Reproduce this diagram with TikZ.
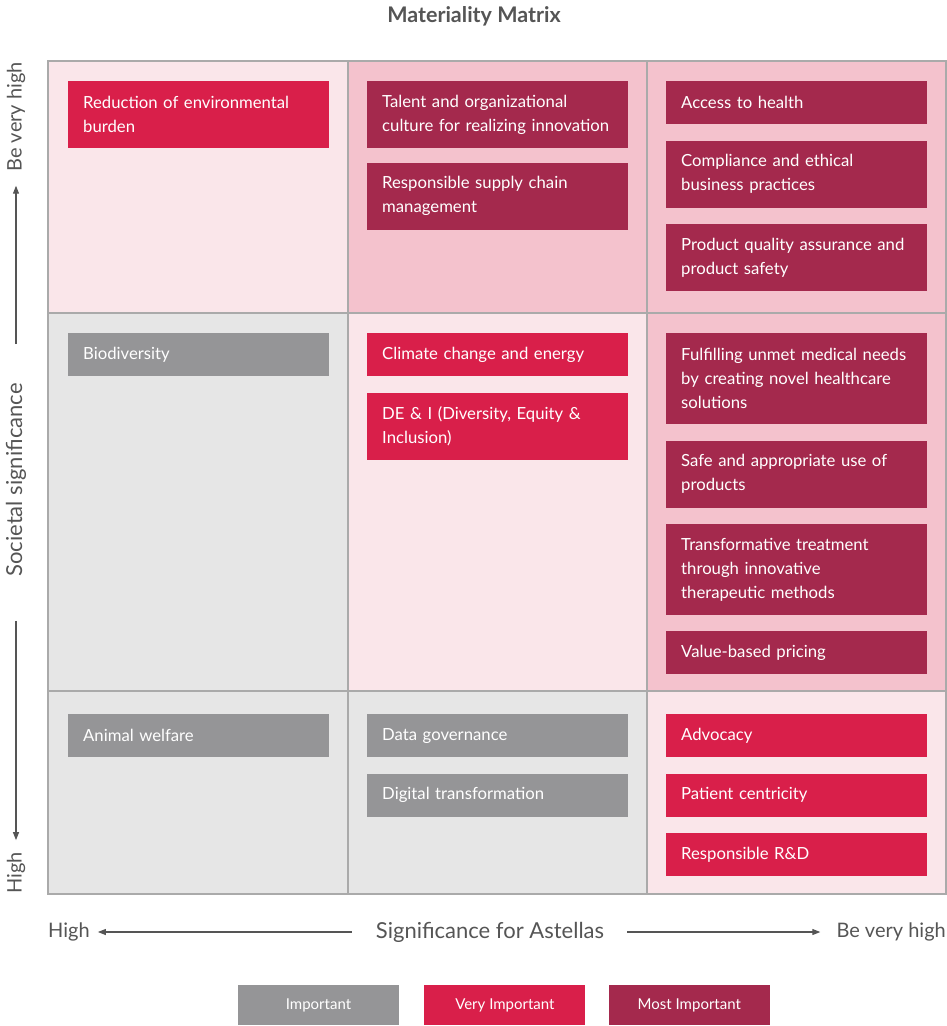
\documentclass[tikz,border=0pt]{standalone}
\usepackage{fontspec}
\setmainfont{Lato}
\usetikzlibrary{arrows.meta, calc, positioning}

\definecolor{vired}{HTML}{D91F4A}
\definecolor{mostred}{HTML}{A4294D}
\definecolor{impgray}{HTML}{959597}
\definecolor{palepink}{HTML}{FAE6EA}
\definecolor{midpink}{HTML}{F4C2CD}
\definecolor{cellgray}{HTML}{E6E6E6}
\definecolor{gridgray}{HTML}{AAAAAA}
\definecolor{txtgray}{HTML}{555555}

\begin{document}
\begin{tikzpicture}[
    x=1pt, y=-1pt,
    font=\fontsize{16.7}{24}\selectfont,
    cell/.style={
        draw=gridgray,
        line width=1.3pt,
        rectangle,
        anchor=north west,
        inner sep=0pt,
        outer sep=0pt
    },
    topic/.style={
        rectangle,
        anchor=north west,
        text=white,
        align=left,
        minimum width=261pt,
        text width=231pt,
        inner xsep=15pt,
        inner ysep=0pt,
        minimum height={19pt+24pt*#1}
    },
    topic/.default=1,
    axislabel/.style={
        text=txtgray,
        inner sep=0pt,
        font=\fontsize{22}{24}\selectfont
    },
    endlabel/.style={
        text=txtgray,
        inner sep=0pt,
        font=\fontsize{20}{24}\selectfont
    },
    axisarrow/.style={
        draw=txtgray,
        line width=1.1pt,
        -{Triangle[length=8pt, width=6pt]}
    },
    legend/.style={
        rectangle,
        text=white,
        minimum width=161pt,
        minimum height=40pt,
        inner sep=0pt,
        font=\fontsize{15}{16}\selectfont
    }
]
    \useasboundingbox (0,0) rectangle (947,1026);

    % Title
    \node [font=\bfseries\fontsize{21.5}{24}\selectfont, text=txtgray] (title) at (474,16) {Materiality Matrix};

    % Matrix cells
    \node [cell, fill=palepink, minimum width=300pt, minimum height=252pt] (c11) at (48,61) {};
    \node [cell, fill=midpink, minimum width=299pt, minimum height=252pt] (c12) at (348,61) {};
    \node [cell, fill=midpink, minimum width=299pt, minimum height=252pt] (c13) at (647,61) {};
    \node [cell, fill=cellgray, minimum width=300pt, minimum height=378pt] (c21) at (48,313) {};
    \node [cell, fill=palepink, minimum width=299pt, minimum height=378pt] (c22) at (348,313) {};
    \node [cell, fill=midpink, minimum width=299pt, minimum height=378pt] (c23) at (647,313) {};
    \node [cell, fill=cellgray, minimum width=300pt, minimum height=203pt] (c31) at (48,691) {};
    \node [cell, fill=cellgray, minimum width=299pt, minimum height=203pt] (c32) at (348,691) {};
    \node [cell, fill=palepink, minimum width=299pt, minimum height=203pt] (c33) at (647,691) {};

    % Top row
    \node [topic=2, fill=vired] (envburden) at ($(c11.north west)+(20,20)$) {Reduction of environmental\\burden};

    \node [topic=2, fill=mostred] (talent) at ($(c12.north west)+(19,20)$) {Talent and organizational\\culture for realizing innovation};
    \node [topic=2, fill=mostred, below=14pt of talent] (supply) {Responsible supply chain\\management};

    \node [topic, fill=mostred] (access) at ($(c13.north west)+(19,20)$) {Access to health};
    \node [topic=2, fill=mostred, below=16pt of access] (ethics) {Compliance and ethical\\business practices};
    \node [topic=2, fill=mostred, below=16pt of ethics] (quality) {Product quality assurance and\\product safety};

    % Middle row
    \node [topic, fill=impgray] (biodiv) at ($(c21.north west)+(20,20)$) {Biodiversity};

    \node [topic, fill=vired] (climate) at ($(c22.north west)+(19,20)$) {Climate change and energy};
    \node [topic=2, fill=vired, below=16pt of climate] (dei) {DE \& I (Diversity, Equity \&\\Inclusion)};

    \node [topic=3, fill=mostred] (unmet) at ($(c23.north west)+(19,20)$) {Fulfilling unmet medical needs\\by creating novel healthcare\\solutions};
    \node [topic=2, fill=mostred, below=16pt of unmet] (safeuse) {Safe and appropriate use of\\products};
    \node [topic=3, fill=mostred, below=16pt of safeuse] (transform) {Transformative treatment\\through innovative\\therapeutic methods};
    \node [topic, fill=mostred, below=16pt of transform] (pricing) {Value-based pricing};

    % Bottom row
    \node [topic, fill=impgray] (animal) at ($(c31.north west)+(20,23)$) {Animal welfare};

    \node [topic, fill=impgray] (datagov) at ($(c32.north west)+(19,23)$) {Data governance};
    \node [topic, fill=impgray, below=16pt of datagov] (digital) {Digital transformation};

    \node [topic, fill=vired] (advocacy) at ($(c33.north west)+(19,23)$) {Advocacy};
    \node [topic, fill=vired, below=16pt of advocacy] (patient) {Patient centricity};
    \node [topic, fill=vired, below=16pt of patient] (rnd) {Responsible R\&D};

    % Vertical axis
    \node [axislabel, rotate=90] (societal) at (16,480) {Societal significance};
    \node [endlabel, rotate=90, anchor=east] (vhigh) at (16,62) {Be very high};
    \node [endlabel, rotate=90, anchor=west] (vlow) at (16,894) {High};
    \draw [axisarrow, shorten <=39pt, shorten >=14pt] (societal.east) -- (vhigh.west);
    \draw [axisarrow, shorten <=44pt, shorten >=12pt] (societal.west) -- (vlow.east);

    % Horizontal axis
    \node [axislabel] (astellas) at (490,932) {Significance for Astellas};
    \node [endlabel, anchor=west] (hlow) at (48,932) {High};
    \node [endlabel, anchor=east] (hhigh) at (946,932) {Be very high};
    \draw [axisarrow, shorten <=24pt, shorten >=8pt] (astellas.west) -- (hlow.east);
    \draw [axisarrow, shorten <=23pt, shorten >=16pt] (astellas.east) -- (hhigh.west);

    % Legend
    \node [legend, fill=impgray] (legimp) at (318.5,1005) {Important};
    \node [legend, fill=vired, right=25pt of legimp] (legvery) {Very Important};
    \node [legend, fill=mostred, right=23pt of legvery] (legmost) {Most Important};

\end{tikzpicture}
\end{document}
